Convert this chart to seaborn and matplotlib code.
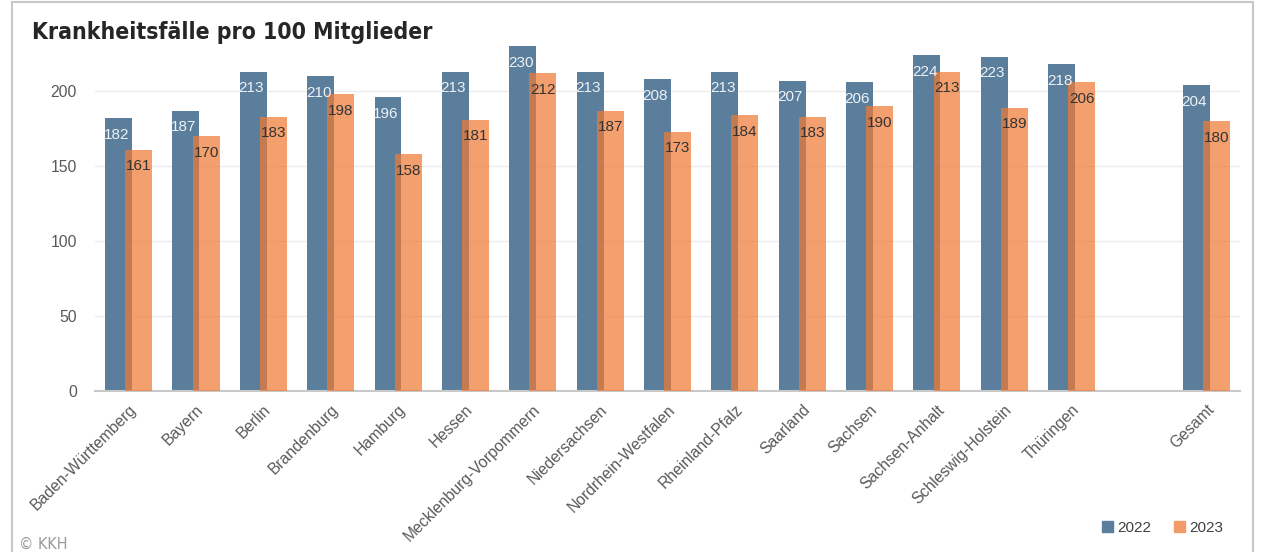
import numpy as np
import pandas as pd
import matplotlib
matplotlib.use("Agg")
import matplotlib.pyplot as plt
from matplotlib.patches import Rectangle, Patch
import seaborn as sns

laender = ["Baden-Württemberg", "Bayern", "Berlin", "Brandenburg", "Hamburg",
           "Hessen", "Mecklenburg-Vorpommern", "Niedersachsen",
           "Nordrhein-Westfalen", "Rheinland-Pfalz", "Saarland", "Sachsen",
           "Sachsen-Anhalt", "Schleswig-Holstein", "Thüringen", "Gesamt"]
werte_2022 = [182, 187, 213, 210, 196, 213, 230, 213, 208, 213, 207, 206, 224, 223, 218, 204]
werte_2023 = [161, 170, 183, 198, 158, 181, 212, 187, 173, 184, 183, 190, 213, 189, 206, 180]
yticks = [0, 50, 100, 150, 200]

blau = "#5a7e9c"
orange = "#ef7a36"

# slot 15 stays empty, Gesamt sits in slot 16
pos = np.array(list(range(15)) + [16])

sns.set_style("white")
plt.rcParams["font.family"] = ["Liberation Sans", "DejaVu Sans"]

fig = plt.figure(figsize=(12.63, 5.52), dpi=100)
ax = fig.add_axes([0.0752, 0.2917, 0.9066, 0.6303])

df22 = pd.DataFrame({"x": pos - 0.15, "wert": werte_2022})
df23 = pd.DataFrame({"x": pos + 0.15, "wert": werte_2023})
sns.barplot(data=df22, x="x", y="wert", native_scale=True, width=0.4,
            color=blau, saturation=1, linewidth=0, edgecolor="none",
            ax=ax, zorder=2)
sns.barplot(data=df23, x="x", y="wert", native_scale=True, width=0.4,
            color=orange, saturation=1, alpha=0.72, linewidth=0, edgecolor="none",
            ax=ax, zorder=3)

for x, v in zip(df22["x"], df22["wert"]):
    ax.text(x - 0.03, v - 11, str(v), ha="center", va="center",
            fontsize=11, color="#eef2f5", zorder=4)
for x, v in zip(df23["x"], df23["wert"]):
    ax.text(x, v - 11, str(v), ha="center", va="center",
            fontsize=11, color="#333333", zorder=4)

ax.set_xlim(-0.5, 16.5)
ax.set_ylim(0, 232)
ax.set_yticks(yticks)
ax.set_yticklabels([str(t) for t in yticks], fontsize=11.3, color="#595959")
ax.set_xticks(pos)
ax.set_xticklabels(laender, rotation=45, ha="right", rotation_mode="anchor",
                   fontsize=11.3, color="#595959")
ax.tick_params(axis="x", length=0, pad=8)
ax.tick_params(axis="y", length=0, pad=13)
ax.set_xlabel("")
ax.set_ylabel("")
ax.grid(axis="y", color="#ececec", linewidth=1, zorder=0)
ax.set_axisbelow(True)
for s in ["top", "right", "left"]:
    ax.spines[s].set_visible(False)
ax.spines["bottom"].set_color("#c8c8c8")
ax.spines["bottom"].set_linewidth(1.5)

fig.text(32 / 1263, 1 - 33 / 552, "Krankheitsfälle pro 100 Mitglieder",
         fontsize=16.5, fontweight="bold", fontstretch="condensed",
         color="#262626", va="center", family="DejaVu Sans")
fig.text(19 / 1263, 1 - 544 / 552, "© KKH", fontsize=11.5, color="#9a9a9a",
         va="center", fontstretch="condensed", family="DejaVu Sans")

handles = [Patch(color=blau, label="2022"),
           Patch(color="#f39a6a", label="2023")]
fig.legend(handles=handles, loc="center", bbox_to_anchor=(1163 / 1263, 1 - 528 / 552),
           ncol=2, frameon=False, fontsize=11, handlelength=0.7, handleheight=0.7,
           handletextpad=0.3, columnspacing=1.5, labelcolor="#404040")

fig.patches.append(Rectangle((12 / 1263, -0.1), (1253 - 12) / 1263, 1.1 - 2 / 552,
                             transform=fig.transFigure, fill=False,
                             edgecolor="#c8c8c8", linewidth=1.5))

fig.savefig("out.png", dpi=100)
